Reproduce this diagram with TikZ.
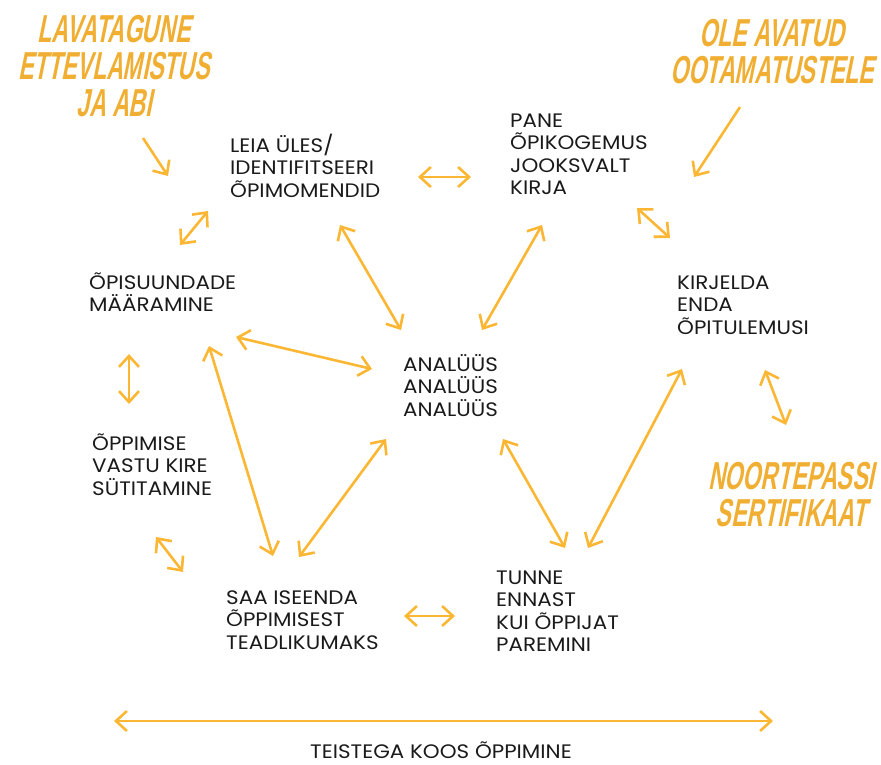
\documentclass[tikz,border=0pt]{standalone}
\usepackage{fontspec}
\setmainfont{Poppins}[FakeStretch=1.1]
\newfontfamily\headfont[FakeStretch=0.59,FakeSlant=0.2]{Liberation Sans Bold}
\usepackage{tikz}
\usetikzlibrary{arrows.meta}

\begin{document}
\begin{tikzpicture}[x=1pt,y=-1pt]
	\definecolor{arrorange}{RGB}{251,183,52}
	\definecolor{headorange}{RGB}{240,174,50}
	\definecolor{inkblack}{RGB}{26,26,26}
	\tikzset{
		idea/.style={anchor=base west, inner sep=0pt, align=left,
			text=inkblack, font=\fontsize{19.5}{22.5}\selectfont},
		head/.style={anchor=base, inner sep=0pt, align=center,
			text=headorange, font=\headfont\fontsize{39}{37}\selectfont},
		barb/.tip={Straight Barb[length=11pt,width=20pt,line width=2.6pt]},
		link/.style={barb-barb, draw=arrorange, line width=2.6pt},
		lead/.style={-barb, draw=arrorange, line width=2.6pt}
	}
	\useasboundingbox (0,0) rectangle (881,765);
	
	% HEADINGS (placed at the baseline of the last line)
	\node[head] (lava) at (114,117) {LAVATAGUNE\\ETTEVLAMISTUS\\JA ABI};
	\node[head] (ole) at (772,84) {OLE AVATUD\\OOTAMATUSTELE};
	\node[head] (passi) at (791,526) {NOORTEPASSI\\SERTIFIKAAT};
	
	% STEPS
	\node[idea] (leia) at (230,197) {LEIA ÜLES/\\IDENTIFITSEERI\\ÕPIMOMENDID};
	\node[idea] (pane) at (510,194.5) {PANE\\ÕPIKOGEMUS\\JOOKSVALT\\KIRJA};
	\node[idea] (kirjelda) at (677,334) {KIRJELDA\\ENDA\\ÕPITULEMUSI};
	\node[idea] (suunad) at (89,311.5) {ÕPISUUNDADE\\MÄÄRAMINE};
	\node[idea] (analyys) at (403,416) {ANALÜÜS\\ANALÜÜS\\ANALÜÜS};
	\node[idea] (kire) at (92,495) {ÕPPIMISE\\VASTU KIRE\\SÜTITAMINE};
	\node[idea] (teadlik) at (226,649) {SAA ISEENDA\\ÕPPIMISEST\\TEADLIKUMAKS};
	\node[idea] (tunne) at (496,651.5) {TUNNE\\ENNAST\\KUI ÕPPIJAT\\PAREMINI};
	\node[idea, anchor=base, text depth=0pt] (koos) at (441,758) {TEISTEGA KOOS ÕPPIMINE};
	
	% ARROW ENDS
	\coordinate (lava1) at (143,138);  \coordinate (lava2) at (168,176);
	\coordinate (ole1) at (740,107);   \coordinate (ole2) at (694,177);
	\coordinate (lp1) at (418,177);    \coordinate (lp2) at (471,177);
	\coordinate (ls1) at (208,211);    \coordinate (ls2) at (180,245);
	\coordinate (la1) at (340,225);    \coordinate (la2) at (401,330);
	\coordinate (pa1) at (542,225);    \coordinate (pa2) at (482,330);
	\coordinate (pk1) at (637,208);    \coordinate (pk2) at (670,238);
	\coordinate (kn1) at (765,370);    \coordinate (kn2) at (786,425);
	\coordinate (kt1) at (682,369);    \coordinate (kt2) at (588,548);
	\coordinate (at1) at (503,439);    \coordinate (at2) at (565,548);
	\coordinate (sa1) at (236,337);    \coordinate (sa2) at (372,369);
	\coordinate (st1) at (209,346);    \coordinate (st2) at (273,556);
	\coordinate (as1) at (386,439);    \coordinate (as2) at (299,557);
	\coordinate (sk1) at (129,354);    \coordinate (sk2) at (129,404);
	\coordinate (kt3) at (156,537);    \coordinate (kt4) at (183,572);
	\coordinate (tt1) at (404,616);    \coordinate (tt2) at (455,616);
	\coordinate (ko1) at (114,721);    \coordinate (ko2) at (773,721);
	
	% ARROWS
	\draw[lead] (lava1) -- (lava2);
	\draw[lead] (ole1) -- (ole2);
	\draw[link] (lp1) -- (lp2);
	\draw[link] (ls1) -- (ls2);
	\draw[link] (la1) -- (la2);
	\draw[link] (pa1) -- (pa2);
	\draw[link] (pk1) -- (pk2);
	\draw[link] (kn1) -- (kn2);
	\draw[link] (kt1) -- (kt2);
	\draw[link] (at1) -- (at2);
	\draw[link] (sa1) -- (sa2);
	\draw[link] (st1) -- (st2);
	\draw[link] (as1) -- (as2);
	\draw[link] (sk1) -- (sk2);
	\draw[link] (kt3) -- (kt4);
	\draw[link] (tt1) -- (tt2);
	\draw[link] (ko1) -- (ko2);
\end{tikzpicture}
\end{document}
